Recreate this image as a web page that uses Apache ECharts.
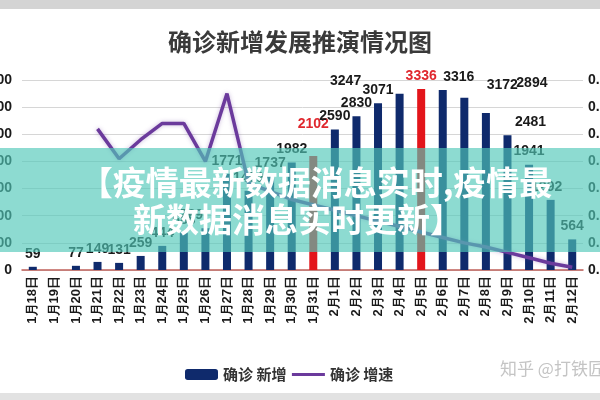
<!DOCTYPE html>
<html>
<head>
<meta charset="utf-8">
<script src="https://cdn.jsdelivr.net/npm/echarts@6/dist/echarts.min.js"></script>
<style>
  html, body { margin: 0; padding: 0; background: #fff; }
  #chart { width: 600px; height: 400px; }
</style>
</head>
<body>
<div id="chart"></div>
<script>
  // 日期
  const dates = ['1月18日', '1月19日', '1月20日', '1月21日', '1月22日', '1月23日', '1月24日',
    '1月25日', '1月26日', '1月27日', '1月28日', '1月29日', '1月30日', '1月31日',
    '2月1日', '2月2日', '2月3日', '2月4日', '2月5日', '2月6日', '2月7日', '2月8日',
    '2月9日', '2月10日', '2月11日', '2月12日']
  // 确诊 新增
  const newCases = [59, null, 77, 149, 131, 259, 444, 688, 769, 1771, 1459, 1737, 1982, 2102,
    2590, 2830, 3071, 3247, 3336, 3316, 3172, 2894, 2481, 1941, 1292, 564]
  // 确诊 增速
  const growth = [null, null, null, 0.52, 0.41, 0.48, 0.54, 0.54, 0.40, 0.65, 0.32, 0.29, 0.26, 0.24,
    0.22, 0.20, 0.18, 0.16, 0.14, 0.12, 0.10, 0.085, 0.065, 0.045, 0.025, 0.01]
  const redDates = ['1月31日', '2月5日']
  const leftMax = 3500, leftStep = 500
  const rightMax = 0.7, rightStep = 0.1

  // 标签微调（原图标签错落摆放）
  const labelNudge = {
    '1月26日': [-14, 0], '1月31日': [0, -19], '2月4日': [-54, 0], '2月6日': [16, 0],
    '2月7日': [38, 0], '2月8日': [46, -17], '2月9日': [23, 0], '2月11日': [-4, 0]
  }

  const barData = newCases.map((v, i) => {
    const red = redDates.includes(dates[i])
    const item = { value: v, itemStyle: { color: red ? '#e3151b' : '#0f2a6c' } }
    item.label = { color: red ? '#e0282e' : '#1a1a1a', offset: labelNudge[dates[i]] || [0, 0] }
    return item
  })

  const chart = echarts.init(document.getElementById('chart'))
  chart.setOption({
    animation: false,
    backgroundColor: '#fff',
    title: {
      text: '确诊新增发展推演情况图', left: 'center', top: 25,
      textStyle: { fontFamily: 'Noto Sans CJK SC', fontSize: 24, fontWeight: 'bold', color: '#3a3a3a' }
    },
    legend: {
      left: 180, top: 362, itemWidth: 33, itemHeight: 11, itemGap: 4,
      textStyle: { fontFamily: 'Noto Sans CJK SC', fontSize: 15, fontWeight: 'bold', color: '#333' },
      data: ['确诊 新增', { name: '确诊 增速', itemStyle: { opacity: 0 }, lineStyle: { width: 3 } }]
    },
    grid: { left: 22, right: 17, top: 80, bottom: 130, containLabel: false, outerBoundsMode: 'none' },
    xAxis: {
      type: 'category', data: dates,
      axisLine: { lineStyle: { color: '#c0605a', width: 1.5 } },
      axisTick: { length: 5, lineStyle: { color: '#c0605a' } },
      axisLabel: { rotate: 90, interval: 0, margin: 6, fontFamily: 'Liberation Sans', fontSize: 13, fontWeight: 'bold', color: '#1a1a1a' }
    },
    yAxis: [{
      type: 'value', min: 0, max: leftMax, interval: leftStep,
      axisLabel: { margin: 10, fontFamily: 'Liberation Sans', fontSize: 14, fontWeight: 'bold', color: '#1a1a1a',
        formatter: v => String(v) },
      splitLine: { lineStyle: { color: '#d6d6d6' } },
      axisLine: { show: false }, axisTick: { show: false }
    }, {
      type: 'value', min: 0, max: rightMax, interval: rightStep,
      axisLabel: { margin: 5, fontFamily: 'Liberation Sans', fontSize: 14, fontWeight: 'bold', color: '#1a1a1a',
        formatter: v => v.toFixed(2) },
      splitLine: { show: false }, axisLine: { show: false }, axisTick: { show: false }
    }],
    series: [{
      name: '确诊 新增', type: 'bar', barWidth: 8, data: barData,
      itemStyle: { color: '#0f2a6c' },
      label: { show: true, position: 'top', distance: 6, fontFamily: 'Liberation Sans', fontSize: 14, fontWeight: 'bold' }
    }, {
      name: '确诊 增速', type: 'line', yAxisIndex: 1, data: growth, symbol: 'none',
      lineStyle: { color: '#6b3a9c', width: 3.5, shadowColor: 'rgba(107,58,156,0.35)', shadowBlur: 4 },
      itemStyle: { color: '#6b3a9c' }
    }],
    graphic: [
      { type: 'rect', z: 50, shape: { x: 0, y: 0, width: 600, height: 9 }, style: { fill: '#d4d4d4' } },
      { type: 'rect', z: 50, shape: { x: 0, y: 393, width: 600, height: 7 }, style: { fill: '#e2e2e2' } },
      { type: 'text', z: 50, left: 500, top: 360,
        style: { text: '知乎 @打铁匠', fill: '#c4c4c4', font: '17px "Noto Sans CJK SC"' } },
      { type: 'rect', z: 100, shape: { x: 0, y: 148, width: 600, height: 104 },
        style: { fill: 'rgba(80,200,185,0.65)' } },
      { type: 'text', z: 101, x: 316, y: 182,
        style: { text: '【疫情最新数据消息实时,疫情最', fill: '#fff', align: 'center', verticalAlign: 'middle',
          font: 'bold 33px "Noto Sans CJK SC"' } },
      { type: 'text', z: 101, x: 298, y: 219,
        style: { text: '新数据消息实时更新】', fill: '#fff', align: 'center', verticalAlign: 'middle',
          font: 'bold 33px "Noto Sans CJK SC"' } }
    ]
  })
</script>
</body>
</html>
